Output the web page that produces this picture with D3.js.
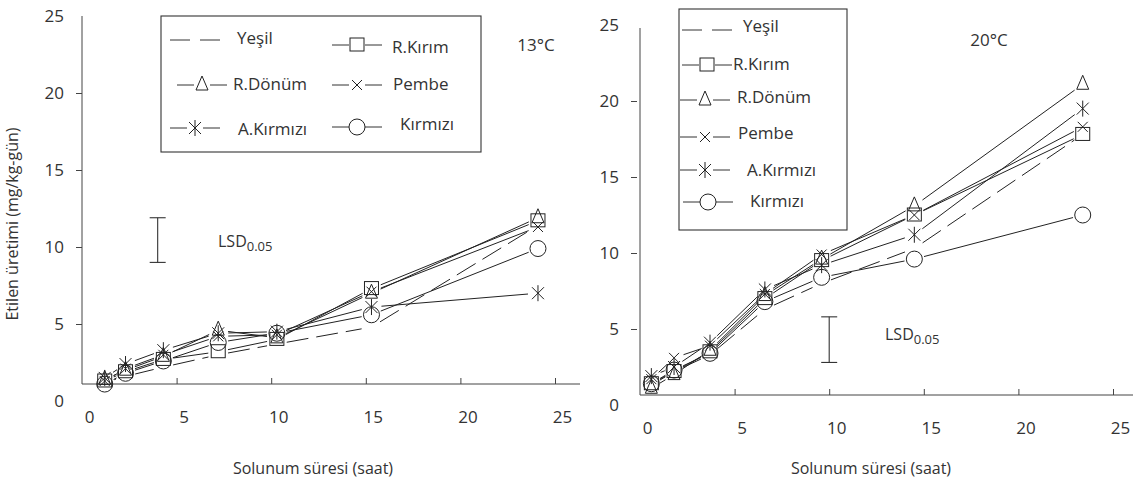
<!DOCTYPE html>
<html>
<head>
<meta charset="utf-8">
<script src="https://cdn.jsdelivr.net/npm/d3@7"></script>
<style>
  body { margin: 0; background: #fff; }
  svg text { font-family: "Open Sans", sans-serif; fill: #333; }
</style>
</head>
<body>
<script>
const WIDTH = 1133;
const HEIGHT = 484;

const seriesNames = ['Yeşil', 'R.Kırım', 'R.Dönüm', 'Pembe', 'A.Kırmızı', 'Kırmızı'];
const seriesMarks = ['none', 'square', 'triangle', 'cross', 'asterisk', 'circle'];
const xTicks = [0, 5, 10, 15, 20, 25];
const yTicks = [0, 5, 10, 15, 20, 25];

// 13°C
const hours13 = [1.2, 2.3, 4.3, 7.2, 10.3, 15.3, 24.1];
const yesil13 = [1.2, 1.6, 2.2, 3.0, 3.7, 4.8, 11.4];
const rkirim13 = [1.3, 1.9, 2.7, 3.2, 4.0, 7.3, 11.7];
const rdonum13 = [1.4, 2.0, 2.9, 4.6, 4.1, 7.0, 11.9];
const pembe13 = [1.3, 2.1, 3.0, 4.2, 4.3, 7.1, 11.3];
const akirmizi13 = [1.5, 2.4, 3.3, 4.4, 4.5, 6.1, 7.0];
const kirmizi13 = [1.1, 1.8, 2.6, 3.8, 4.4, 5.6, 9.9];
const lsd13 = { x: 4, lo: 9.0, hi: 11.9 };

// 20°C
const hours20 = [0.6, 1.8, 3.7, 6.6, 9.6, 14.5, 23.4];
const yesil20 = [1.3, 2.2, 3.3, 6.3, 8.0, 10.3, 17.8];
const rkirim20 = [1.4, 2.2, 3.5, 7.0, 9.5, 12.5, 17.8];
const rdonum20 = [1.1, 2.0, 3.6, 7.2, 9.6, 13.1, 21.1];
const pembe20 = [1.7, 3.1, 3.9, 7.3, 9.9, 12.5, 18.3];
const akirmizi20 = [1.9, 2.5, 4.1, 7.6, 9.2, 11.2, 19.5];
const kirmizi20 = [1.4, 2.3, 3.4, 6.8, 8.4, 9.6, 12.5];
const lsd20 = { x: 10, lo: 2.8, hi: 5.8 };

const panels = [
  {
    hours: hours13,
    series: [yesil13, rkirim13, rdonum13, pembe13, akirmizi13, kirmizi13],
    lsd: lsd13, temp: '13°C',
    xRange: [82, 555], yRange: [401, 16], axisY: 384, axisEnd: 580, yTop: 16,
    yLabelPad: 12, tickGap: 0, titleX: 313, tempPos: [536, 51], lsdText: [218, 247],
    legendBox: [161, 16, 320, 136],
    legend: [
      { sx: 195, sy: 40, tx: 237, ty: 44 },
      { sx: 357, sy: 45, tx: 392, ty: 53 },
      { sx: 202, sy: 85, tx: 233, ty: 90 },
      { sx: 357, sy: 85, tx: 393, ty: 90 },
      { sx: 195, sy: 128, tx: 238, ty: 135 },
      { sx: 357, sy: 127, tx: 400, ty: 130 }
    ]
  },
  {
    hours: hours20,
    series: [yesil20, rkirim20, rdonum20, pembe20, akirmizi20, kirmizi20],
    lsd: lsd20, temp: '20°C',
    xRange: [640, 1113], yRange: [405, 25], axisY: 395, axisEnd: 1133, yTop: 28,
    yLabelPad: 12, tickGap: 3, titleX: 871, tempPos: [989, 46], lsdText: [885, 340],
    legendBox: [679, 9, 168, 221],
    legend: [
      { sx: 707, sy: 30, tx: 743, ty: 32 },
      { sx: 707, sy: 65, tx: 733, ty: 70 },
      { sx: 705, sy: 100, tx: 737, ty: 103 },
      { sx: 705, sy: 137, tx: 738, ty: 139 },
      { sx: 705, sy: 170, tx: 747, ty: 176 },
      { sx: 708, sy: 202, tx: 750, ty: 207 }
    ]
  }
];

const svg = d3.select('body').append('svg')
  .attr('width', WIDTH)
  .attr('height', HEIGHT);

function drawMark(g, type, cx, cy) {
  const m = g.append('g').attr('transform', `translate(${cx},${cy})`)
    .attr('fill', 'none').attr('stroke', '#222').attr('stroke-width', 1);
  if (type === 'square') {
    m.append('rect').attr('x', -7).attr('y', -7).attr('width', 14).attr('height', 13);
  } else if (type === 'triangle') {
    m.append('path').attr('d', 'M0,-9L6,5L-6,5Z');
  } else if (type === 'cross') {
    m.append('path').attr('d', 'M-5,-5L5,5M5,-5L-5,5');
  } else if (type === 'asterisk') {
    m.append('path').attr('d', 'M-6,-6L6,6M6,-6L-6,6M0,-8L0,8');
  } else if (type === 'circle') {
    m.append('circle').attr('r', 8);
  }
}

const GAP = 10;

panels.forEach(p => {
  const x = d3.scaleLinear().domain([0, 25]).range(p.xRange);
  const y = d3.scaleLinear().domain([0, 25]).range(p.yRange);
  const g = svg.append('g');

  // y axis
  const yAxis = g.append('g')
    .attr('transform', `translate(${x(0) - p.tickGap},0)`)
    .call(d3.axisLeft(y).tickValues(yTicks).tickSize(6).tickPadding(p.yLabelPad));
  yAxis.select('.domain').remove();
  yAxis.selectAll('.tick line').attr('stroke', '#444')
    .filter(d => d === 0 || d === 25).remove();
  yAxis.selectAll('.tick text').attr('font-size', 17).attr('fill', '#333')
    .attr('font-family', '"Open Sans", sans-serif');
  g.append('line')
    .attr('x1', x(0)).attr('x2', x(0))
    .attr('y1', p.yTop).attr('y2', p.axisY)
    .attr('stroke', '#444');

  // x axis
  const xAxis = g.append('g')
    .attr('transform', `translate(0,${p.axisY})`)
    .call(d3.axisBottom(x).tickValues(xTicks).tickSizeInner(-6).tickSizeOuter(0).tickPadding(27));
  xAxis.select('.domain').remove();
  xAxis.selectAll('.tick line').attr('stroke', '#444')
    .filter(d => d === 0).remove();
  xAxis.selectAll('.tick text').attr('font-size', 17).attr('fill', '#333')
    .attr('dx', 7).attr('y', 27)
    .attr('font-family', '"Open Sans", sans-serif');
  g.append('line')
    .attr('x1', x(0)).attr('x2', p.axisEnd)
    .attr('y1', p.axisY).attr('y2', p.axisY)
    .attr('stroke', '#444');

  g.append('text')
    .attr('x', p.titleX).attr('y', 474)
    .attr('text-anchor', 'middle')
    .attr('font-size', 16)
    .text('Solunum süresi (saat)');

  // series
  p.series.forEach((vals, si) => {
    const pts = vals.map((v, i) => [x(p.hours[i]), y(v)]);
    const segs = d3.pairs(pts).map(([a, b]) => {
      const dx = b[0] - a[0], dy = b[1] - a[1];
      const len = Math.hypot(dx, dy);
      const ux = dx / len, uy = dy / len;
      return [a[0] + ux * GAP, a[1] + uy * GAP, b[0] - ux * GAP, b[1] - uy * GAP];
    });
    g.selectAll(null).data(segs).enter().append('line')
      .attr('x1', d => d[0]).attr('y1', d => d[1])
      .attr('x2', d => d[2]).attr('y2', d => d[3])
      .attr('stroke', '#222').attr('stroke-width', 1)
      .attr('stroke-dasharray', si === 0 ? '22,8' : null);
    if (seriesMarks[si] !== 'none') {
      pts.forEach(pt => drawMark(g, seriesMarks[si], pt[0], pt[1]));
    }
  });

  // LSD bar
  const lsd = g.append('g').attr('stroke', '#333').attr('stroke-width', 1.1);
  lsd.append('line').attr('x1', x(p.lsd.x)).attr('x2', x(p.lsd.x))
    .attr('y1', y(p.lsd.hi)).attr('y2', y(p.lsd.lo));
  [p.lsd.hi, p.lsd.lo].forEach(v => {
    lsd.append('line').attr('x1', x(p.lsd.x) - 8).attr('x2', x(p.lsd.x) + 8)
      .attr('y1', y(v)).attr('y2', y(v));
  });
  const lt = g.append('text').attr('x', p.lsdText[0]).attr('y', p.lsdText[1]).attr('font-size', 16);
  lt.append('tspan').text('LSD');
  lt.append('tspan').attr('font-size', 13).attr('dy', 4).text('0.05');

  g.append('text')
    .attr('x', p.tempPos[0]).attr('y', p.tempPos[1])
    .attr('text-anchor', 'middle').attr('font-size', 17)
    .text(p.temp);

  // legend
  const lb = p.legendBox;
  g.append('rect').attr('x', lb[0]).attr('y', lb[1]).attr('width', lb[2]).attr('height', lb[3])
    .attr('fill', '#fff').attr('stroke', '#333').attr('stroke-width', 1.1);
  p.legend.forEach((it, si) => {
    if (si === 0) {
      [[-25, -5], [5, 25]].forEach(([a, b]) => {
        g.append('line').attr('x1', it.sx + a).attr('x2', it.sx + b)
          .attr('y1', it.sy).attr('y2', it.sy).attr('stroke', '#333');
      });
    } else {
      [[-25, -8], [8, 25]].forEach(([a, b]) => {
        g.append('line').attr('x1', it.sx + a).attr('x2', it.sx + b)
          .attr('y1', it.sy).attr('y2', it.sy).attr('stroke', '#333');
      });
      drawMark(g, seriesMarks[si], it.sx, it.sy);
    }
    g.append('text').attr('x', it.tx).attr('y', it.ty).attr('font-size', 17).text(seriesNames[si]);
  });
});

svg.append('text')
  .attr('transform', 'translate(18,224) rotate(-90)')
  .attr('text-anchor', 'middle')
  .attr('font-size', 16)
  .text('Etilen üretimi (mg/kg-gün)');
</script>
</body>
</html>
